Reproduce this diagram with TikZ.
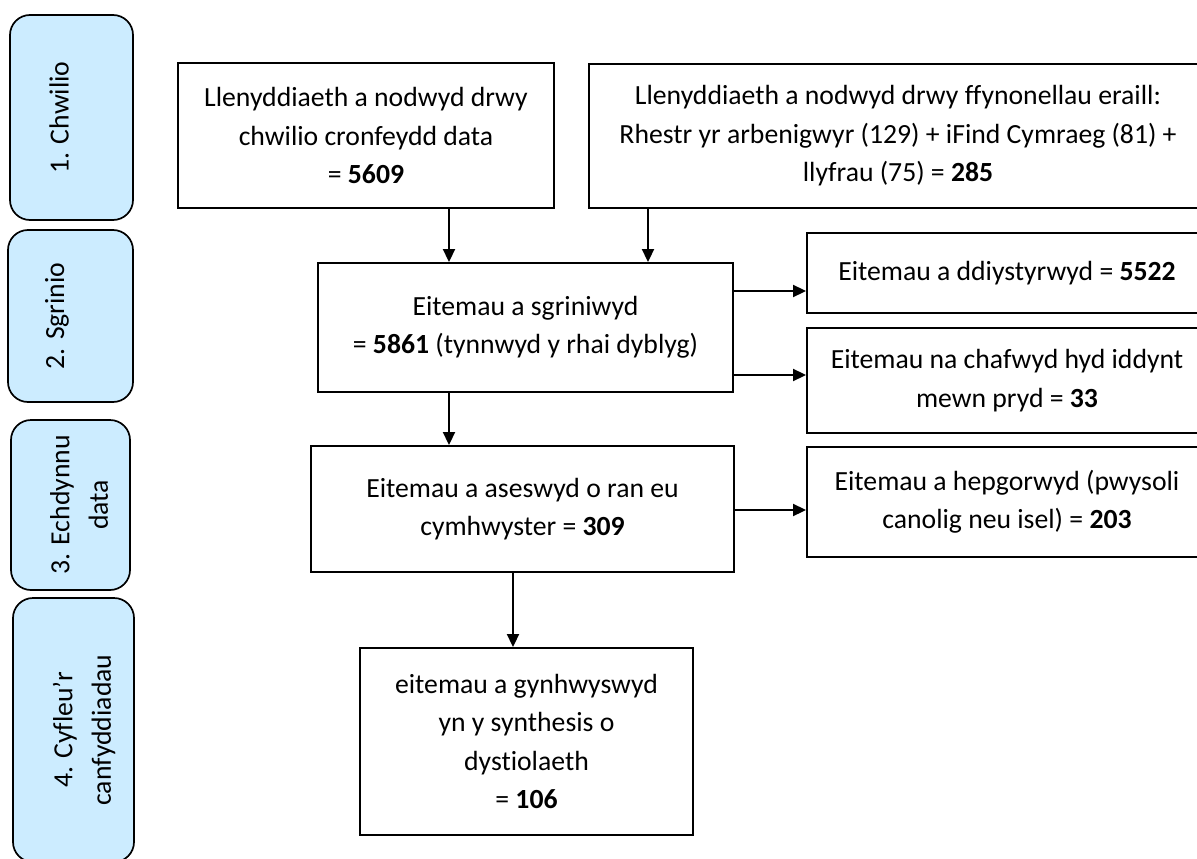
\documentclass[tikz,border=0pt]{standalone}
\usepackage{fontspec}
\setmainfont[Ligatures=NoCommon]{Carlito}
\usetikzlibrary{arrows.meta}
\definecolor{stagefill}{HTML}{CCECFF}

\begin{document}
\begin{tikzpicture}[
    x=1pt, y=-1pt,
    every node/.style={font=\fontsize{27.7pt}{38.5pt}\selectfont, align=center},
    box/.style={draw, line width=1.9pt, inner sep=0pt},
    stagebox/.style={draw, line width=1.7pt, fill=stagefill, rounded corners=20pt},
    stagetext/.style={rotate=90, inner sep=0pt},
    arr/.style={line width=1.9pt, -{Triangle[length=13pt, width=12pt]}},
  ]
    \useasboundingbox (0,0) rectangle (1197,859);
    \clip (0,0) rectangle (1197,859);
    %% Stages down the left side
    \foreach \n/\cx/\cy/\bw/\bh/\lx/\txt in {
        1/71.5/117.5/123/205/59/{1. Chwilio},
        2/70.5/316/125/172/57/{2. Sgrinio},
        3/70.5/505/119/170/79/{3. Echdynnu\\data},
        4/73.5/730/121/264/84/{4. Cyfleu’r\\canfyddiadau}}{
      \node[stagebox, minimum width=\bw pt, minimum height=\bh pt] (stage\n) at (\cx,\cy) {};
      \node[stagetext] (stagelab\n) at (\lx,\cy) {\txt};
    }
    %% Sources
    \node[box, minimum width=376pt, minimum height=145pt] (dbase) at (366,135.5)
      {Llenyddiaeth a nodwyd drwy\\chwilio cronfeydd data\\= \textbf{5609}};
    \node[box, minimum width=618pt, minimum height=144pt] (other) at (898,136)
      {Llenyddiaeth a nodwyd drwy ffynonellau eraill:\\Rhestr yr arbenigwyr (129) + iFind Cymraeg (81) +\\llyfrau (75) = \textbf{285}};
    %% Screening
    \node[box, minimum width=415pt, minimum height=129pt] (screened) at (525.5,327.5)
      {Eitemau a sgriniwyd\\= \textbf{5861} (tynnwyd y rhai dyblyg)};
    \node[box, minimum width=400pt, minimum height=80pt] (discarded) at (1007,273)
      {Eitemau a ddiystyrwyd = \textbf{5522}};
    \node[box, minimum width=400pt, minimum height=105pt] (notfound) at (1007,380.5)
      {Eitemau na chafwyd hyd iddynt\\mewn pryd = \textbf{33}};
    %% Quality assessment
    \node[box, minimum width=423pt, minimum height=126pt] (assessed) at (522.5,509)
      {Eitemau a aseswyd o ran eu\\cymhwyster = \textbf{309}};
    \node[box, minimum width=400pt, minimum height=110pt] (excluded) at (1007,502)
      {Eitemau a hepgorwyd (pwysoli\\canolig neu isel) = \textbf{203}};
    %% Synthesis
    \node[box, minimum width=333pt, minimum height=187pt] (included) at (526.5,741.5)
      {eitemau a gynhwyswyd\\yn y synthesis o\\dystiolaeth\\= \textbf{106}};
    %% Connectors
    \draw[arr] ([xshift=83pt]dbase.south) -- ([xshift=83pt]dbase.south |- screened.north);
    \draw[arr] ([xshift=-250pt]other.south) -- ([xshift=-250pt]other.south |- screened.north);
    \draw[arr] ([yshift=36.5pt]screened.east) -- ([yshift=36.5pt]screened.east -| discarded.west);
    \draw[arr] ([yshift=-47.5pt]screened.east) -- ([yshift=-47.5pt]screened.east -| notfound.west);
    \draw[arr] ([xshift=-76.5pt]screened.south) -- ([xshift=-76.5pt]screened.south |- assessed.north);
    \draw[arr] ([yshift=-1pt]assessed.east) -- ([yshift=-1pt]assessed.east -| excluded.west);
    \draw[arr] ([xshift=-9.5pt]assessed.south) -- ([xshift=-9.5pt]assessed.south |- included.north);
  \end{tikzpicture}
\end{document}
